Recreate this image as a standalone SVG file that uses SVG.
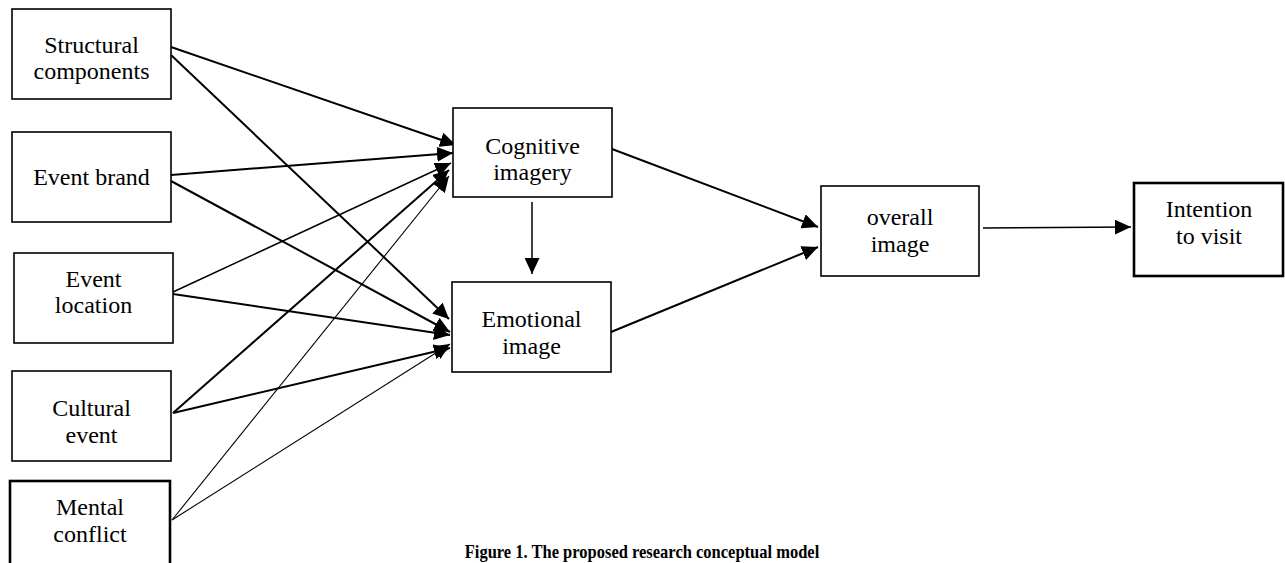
<svg xmlns="http://www.w3.org/2000/svg" width="1285" height="563" viewBox="0 0 1285 563">
<style>
.box{fill:#fff;stroke:#000;stroke-width:1.6}
.bold{stroke-width:2.6}
text{font-family:"Liberation Serif","Times New Roman",serif;font-size:24px;fill:#000;text-anchor:middle}
.cap{font-size:16.5px;font-weight:bold}
.c{fill:none;stroke:#000;stroke-width:2}
.m{stroke-width:1.5}
.t{stroke-width:1.1}
</style>
<defs>
<marker id="ah" markerUnits="userSpaceOnUse" markerWidth="17" markerHeight="15" refX="16" refY="7.5" orient="auto">
<path d="M0,0 L16,7.5 L0,15 z" fill="#000"/>
</marker>
</defs>
<rect width="1285" height="563" fill="#fff"/>
<g id="connectors">
<line class="c" x1="171" y1="47" x2="456" y2="145" marker-end="url(#ah)"/>
<line class="c" x1="171" y1="55" x2="449" y2="319" marker-end="url(#ah)"/>
<line class="c" x1="171" y1="175" x2="453" y2="153" marker-end="url(#ah)"/>
<line class="c" x1="171" y1="181" x2="450" y2="332" marker-end="url(#ah)"/>
<line class="c m" x1="173" y1="292" x2="451" y2="163" marker-end="url(#ah)"/>
<line class="c" x1="173" y1="294" x2="450" y2="335" marker-end="url(#ah)"/>
<line class="c" x1="173" y1="413" x2="449" y2="170" marker-end="url(#ah)"/>
<line class="c" x1="173" y1="413" x2="450" y2="348" marker-end="url(#ah)"/>
<line class="c t" x1="172" y1="520" x2="449" y2="176" marker-end="url(#ah)"/>
<line class="c t" x1="172" y1="520" x2="450" y2="344" marker-end="url(#ah)"/>
<line class="c m" x1="532" y1="202" x2="532" y2="274" marker-end="url(#ah)"/>
<line class="c" x1="612" y1="149" x2="818" y2="227" marker-end="url(#ah)"/>
<line class="c" x1="611" y1="332" x2="818" y2="247" marker-end="url(#ah)"/>
<line class="c m" x1="983" y1="228" x2="1131" y2="227" marker-end="url(#ah)"/>
</g>
<g id="structural">
<rect class="box" x="12" y="9" width="159" height="90"/>
<text x="91.5" y="53">Structural</text>
<text x="91.5" y="79">components</text>
</g>
<g id="brand">
<rect class="box" x="12" y="132" width="159" height="90"/>
<text x="91.5" y="185">Event brand</text>
</g>
<g id="location">
<rect class="box" x="14" y="253" width="159" height="90"/>
<text x="93.5" y="287">Event</text>
<text x="93.5" y="313">location</text>
</g>
<g id="cultural">
<rect class="box" x="12" y="371" width="159" height="90"/>
<text x="91.5" y="416">Cultural</text>
<text x="91.5" y="443">event</text>
</g>
<g id="mental">
<rect class="box bold" x="10" y="481" width="160" height="100"/>
<text x="90" y="515">Mental</text>
<text x="90" y="542">conflict</text>
</g>
<g id="cognitive">
<rect class="box" x="453" y="108" width="159" height="89"/>
<text x="532.5" y="154">Cognitive</text>
<text x="532.5" y="180">imagery</text>
</g>
<g id="emotional">
<rect class="box" x="452" y="282" width="159" height="90"/>
<text x="531.5" y="327">Emotional</text>
<text x="531.5" y="354">image</text>
</g>
<g id="overall">
<rect class="box" x="821" y="186" width="158" height="90"/>
<text x="900" y="225">overall</text>
<text x="900" y="252">image</text>
</g>
<g id="intention">
<rect class="box bold" x="1134" y="183" width="149" height="93"/>
<text x="1209" y="217">Intention</text>
<text x="1209" y="244">to visit</text>
</g>
<text class="cap" transform="translate(642,558) scale(1,1.2)" x="0" y="0">Figure 1. The proposed research conceptual model</text>
</svg>
